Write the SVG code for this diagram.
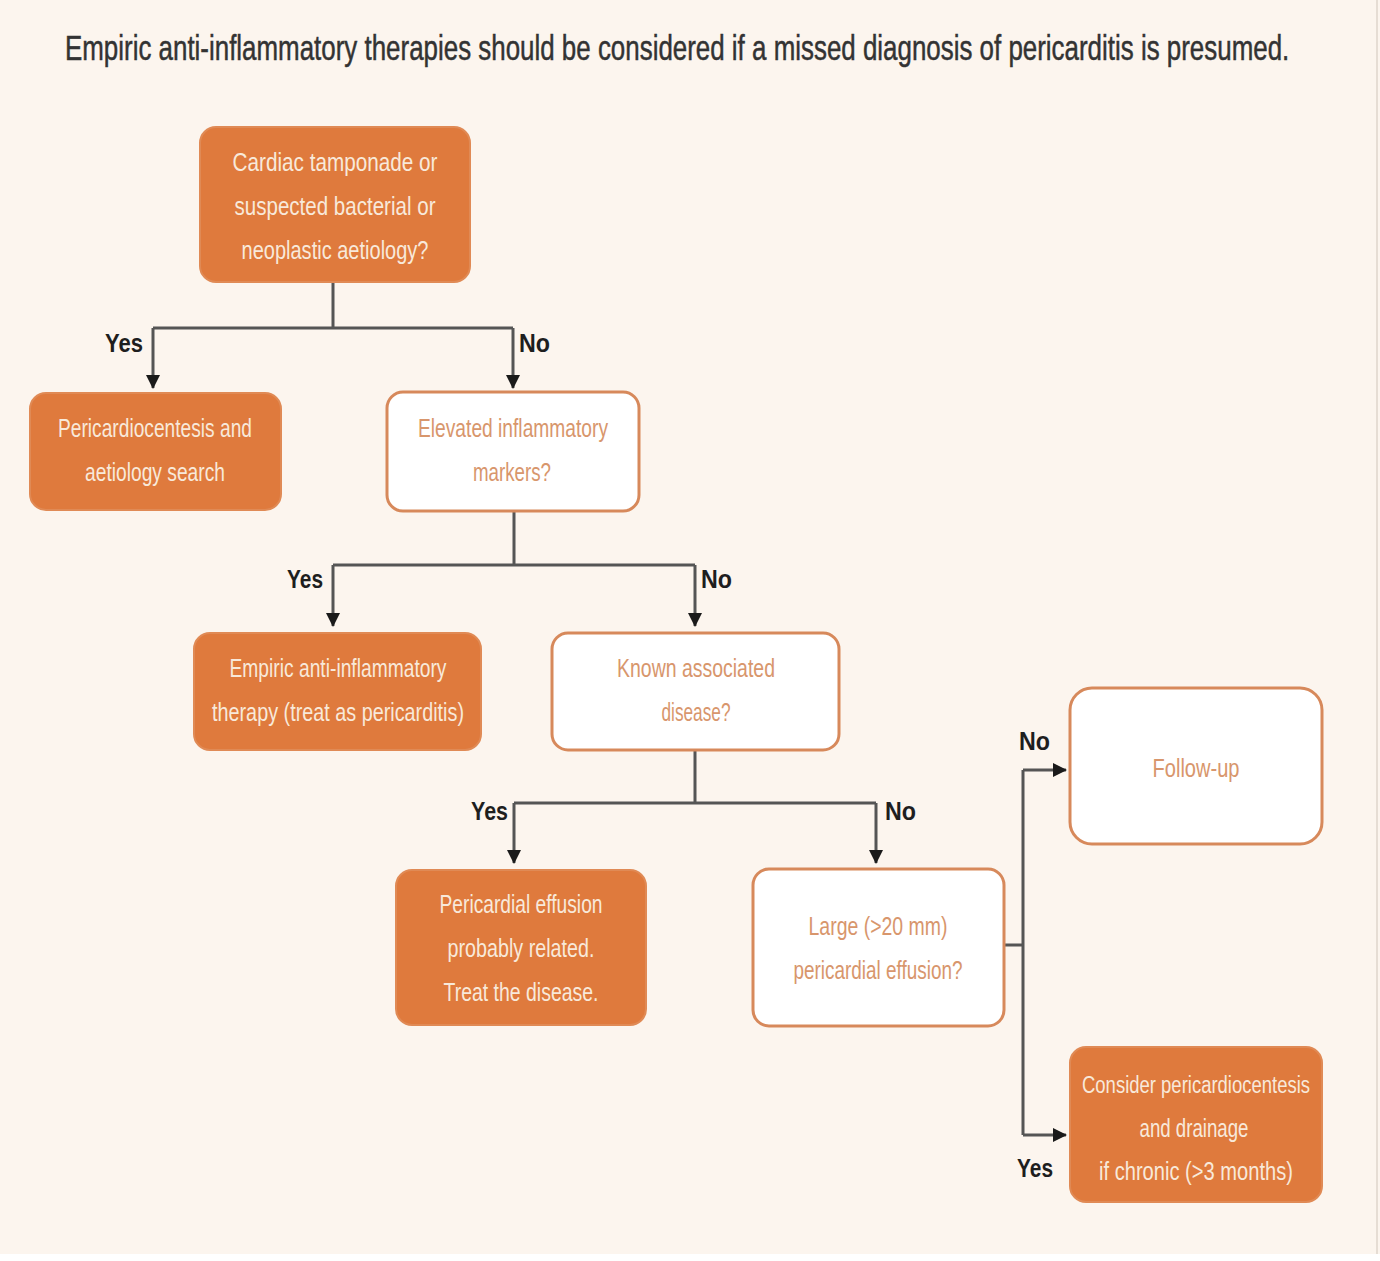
<svg xmlns="http://www.w3.org/2000/svg" width="1380" height="1261" viewBox="0 0 1380 1261">
<defs>
<style>
.bg{fill:#fcf5ee}
.fill{fill:#df7a3d;stroke:#e08a55;stroke-width:2}
.open{fill:#ffffff;stroke:#d7895b;stroke-width:3}
.t{font-family:"Liberation Sans",Arial,sans-serif;font-size:25px;text-anchor:middle}
.tf{fill:#f8e9da}
.to{fill:#d8966c}
.lab{font-family:"Liberation Sans",Arial,sans-serif;font-size:26px;font-weight:bold;fill:#1e1e1e}
.title{font-family:"Liberation Sans",Arial,sans-serif;font-size:36px;fill:#333333;stroke:#333333;stroke-width:0.5}
.c{fill:none;stroke:#555555;stroke-width:3}
</style>
<marker id="ah" markerUnits="userSpaceOnUse" markerWidth="14" markerHeight="16" refX="13" refY="7" orient="auto">
<path d="M0,0 L14,7 L0,14 Z" fill="#1a1a1a"/>
</marker>
</defs>
<rect class="bg" x="0" y="0" width="1380" height="1261"/>
<rect x="0" y="1254" width="1380" height="7" fill="#ffffff"/>
<line x1="1377" y1="0" x2="1377" y2="1254" stroke="#e6ddd4" stroke-width="2"/>

<text class="title" transform="translate(65,60) scale(0.72,1)" x="0" y="0">Empiric anti-inflammatory therapies should be considered if a missed diagnosis of pericarditis is presumed.</text>

<g id="connectors">
<path class="c" d="M333,282 V328 M153,328 H513"/>
<path class="c" d="M153,328 V388" marker-end="url(#ah)"/>
<path class="c" d="M513,328 V388" marker-end="url(#ah)"/>
<path class="c" d="M514,512 V565 M333,565 H695"/>
<path class="c" d="M333,565 V626" marker-end="url(#ah)"/>
<path class="c" d="M695,565 V626" marker-end="url(#ah)"/>
<path class="c" d="M695,751 V803 M514,803 H876"/>
<path class="c" d="M514,803 V863" marker-end="url(#ah)"/>
<path class="c" d="M876,803 V863" marker-end="url(#ah)"/>
<path class="c" d="M1005,945 H1023 M1023,770 V1135"/>
<path class="c" d="M1023,770 H1066" marker-end="url(#ah)"/>
<path class="c" d="M1023,1135 H1066" marker-end="url(#ah)"/>
<text class="lab" x="105" y="352" textLength="38" lengthAdjust="spacingAndGlyphs">Yes</text>
<text class="lab" x="519" y="352" textLength="31" lengthAdjust="spacingAndGlyphs">No</text>
<text class="lab" x="287" y="588" textLength="36" lengthAdjust="spacingAndGlyphs">Yes</text>
<text class="lab" x="701" y="588" textLength="31" lengthAdjust="spacingAndGlyphs">No</text>
<text class="lab" x="471" y="820" textLength="37" lengthAdjust="spacingAndGlyphs">Yes</text>
<text class="lab" x="885" y="820" textLength="31" lengthAdjust="spacingAndGlyphs">No</text>
<text class="lab" x="1019" y="750" textLength="31" lengthAdjust="spacingAndGlyphs">No</text>
<text class="lab" x="1017" y="1177" textLength="36" lengthAdjust="spacingAndGlyphs">Yes</text>
</g>

<g id="n1">
<rect class="fill" x="200" y="127" width="270" height="155" rx="16"/>
<text class="t tf" x="335" y="171" textLength="205" lengthAdjust="spacingAndGlyphs">Cardiac tamponade or</text>
<text class="t tf" x="335" y="215" textLength="201" lengthAdjust="spacingAndGlyphs">suspected bacterial or</text>
<text class="t tf" x="335" y="259" textLength="187" lengthAdjust="spacingAndGlyphs">neoplastic aetiology?</text>
</g>
<g id="n2">
<rect class="fill" x="30" y="393" width="251" height="117" rx="16"/>
<text class="t tf" x="155" y="437" textLength="194" lengthAdjust="spacingAndGlyphs">Pericardiocentesis and</text>
<text class="t tf" x="155" y="481" textLength="140" lengthAdjust="spacingAndGlyphs">aetiology search</text>
</g>
<g id="n3">
<rect class="open" x="387" y="392" width="252" height="119" rx="16"/>
<text class="t to" x="513" y="437" textLength="190" lengthAdjust="spacingAndGlyphs">Elevated inflammatory</text>
<text class="t to" x="512" y="481" textLength="78" lengthAdjust="spacingAndGlyphs">markers?</text>
</g>
<g id="n4">
<rect class="fill" x="194" y="633" width="287" height="117" rx="16"/>
<text class="t tf" x="338" y="677" textLength="217" lengthAdjust="spacingAndGlyphs">Empiric anti-inflammatory</text>
<text class="t tf" x="338" y="721" textLength="252" lengthAdjust="spacingAndGlyphs">therapy (treat as pericarditis)</text>
</g>
<g id="n5">
<rect class="open" x="552" y="633" width="287" height="117" rx="16"/>
<text class="t to" x="696" y="677" textLength="158" lengthAdjust="spacingAndGlyphs">Known associated</text>
<text class="t to" x="696" y="721" textLength="69" lengthAdjust="spacingAndGlyphs">disease?</text>
</g>
<g id="n6">
<rect class="open" x="1070" y="688" width="252" height="156" rx="22"/>
<text class="t to" x="1196" y="777" textLength="87" lengthAdjust="spacingAndGlyphs">Follow-up</text>
</g>
<g id="n7">
<rect class="fill" x="396" y="870" width="250" height="155" rx="16"/>
<text class="t tf" x="521" y="913" textLength="163" lengthAdjust="spacingAndGlyphs">Pericardial effusion</text>
<text class="t tf" x="521" y="957" textLength="147" lengthAdjust="spacingAndGlyphs">probably related.</text>
<text class="t tf" x="521" y="1001" textLength="155" lengthAdjust="spacingAndGlyphs">Treat the disease.</text>
</g>
<g id="n8">
<rect class="open" x="753" y="869" width="251" height="157" rx="16"/>
<text class="t to" x="878" y="935" textLength="139" lengthAdjust="spacingAndGlyphs">Large (&gt;20 mm)</text>
<text class="t to" x="878" y="979" textLength="169" lengthAdjust="spacingAndGlyphs">pericardial effusion?</text>
</g>
<g id="n9">
<rect class="fill" x="1070" y="1047" width="252" height="155" rx="16"/>
<text class="t tf" x="1196" y="1093" textLength="228" lengthAdjust="spacingAndGlyphs" style="font-size:23px">Consider pericardiocentesis</text>
<text class="t tf" x="1194" y="1137" textLength="109" lengthAdjust="spacingAndGlyphs">and drainage</text>
<text class="t tf" x="1196" y="1180" textLength="194" lengthAdjust="spacingAndGlyphs">if chronic (&gt;3 months)</text>
</g>
</svg>
